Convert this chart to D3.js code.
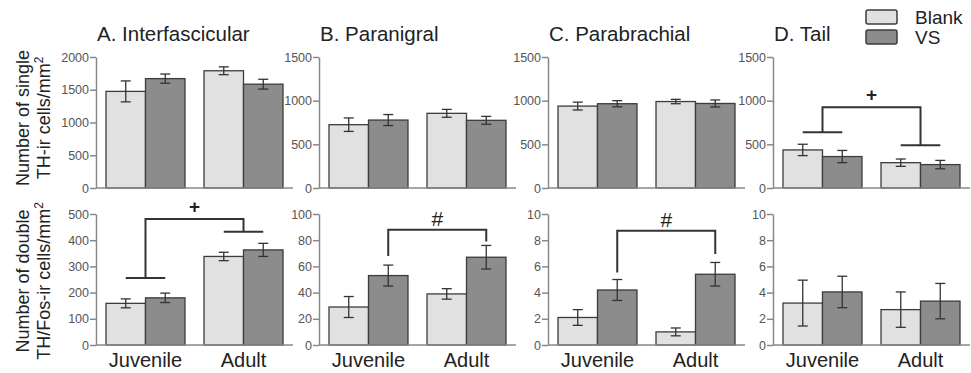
<!DOCTYPE html>
<html>
<head>
<meta charset="utf-8">
<script src="https://cdn.jsdelivr.net/npm/d3@7"></script>
<style>
body { margin: 0; background: #fff; }
svg { font-family: "Liberation Sans", Arial, sans-serif; }
</style>
</head>
<body>
<svg id="chart" width="971" height="373"></svg>
<script>
// data
const groups = ["Juvenile", "Adult"];
const series = ["Blank", "VS"];
const titles = ["A. Interfascicular", "B. Paranigral", "C. Parabrachial", "D. Tail"];

// order in each row: juvenile blank, juvenile VS, adult blank, adult VS
const singleMean = [[1475, 1670, 1790, 1585], [725, 778, 855, 775], [938, 965, 990, 968], [436, 360, 290, 268]];
const singleErr  = [[160, 70, 60, 75], [77, 63, 45, 45], [45, 35, 25, 40], [65, 70, 42, 48]];
const doubleMean = [[159, 180, 338, 363], [29, 53, 39, 67], [2.1, 4.2, 1.0, 5.4], [3.2, 4.05, 2.7, 3.35]];
const doubleErr  = [[17, 18, 16, 25], [8, 8, 4, 9], [0.6, 0.8, 0.3, 0.9], [1.75, 1.2, 1.35, 1.35]];

const singleTicks = [[0, 500, 1000, 1500, 2000], [0, 500, 1000, 1500], [0, 500, 1000, 1500], [0, 500, 1000, 1500]];
const doubleTicks = [[0, 100, 200, 300, 400, 500], [0, 20, 40, 60, 80, 100], [0, 2, 4, 6, 8, 10], [0, 2, 4, 6, 8, 10]];

// significance brackets: levels in data units (left end, top, right end)
const brackets = [
  { row: 1, panel: 0, kind: "group", sym: "+", left: 256, top: 481, right: 432 },
  { row: 1, panel: 1, kind: "bar", sym: "#", left: 68, top: 88, right: 79 },
  { row: 1, panel: 2, kind: "bar", sym: "#", left: 5.54, top: 8.73, right: 6.94 },
  { row: 0, panel: 3, kind: "group", sym: "+", left: 639, top: 926, right: 489 }
];

const colors = { Blank: "#e1e1e1", VS: "#8c8c8c" };
const ink = "#333";

let svg = d3.select("#chart");
let axisX = [96, 319, 548, 773]; // left edge of each panel
let axisLen = 197;
let rows = [
  { y0: 188, y1: 57, means: singleMean, errs: singleErr, ticks: singleTicks },
  { y0: 345, y1: 214, means: doubleMean, errs: doubleErr, ticks: doubleTicks }
];

let xScales = [];
let yScales = [[], []];

axisX.forEach(function(ax, p) {
  let x = d3.scaleBand().domain(groups).range([ax, ax + axisLen])
    .paddingInner(0.194).paddingOuter(0.102);
  xScales.push(x);
  let xs = d3.scaleBand().domain(series).range([0, x.bandwidth()]);

  rows.forEach(function(r, ri) {
    let ticks = r.ticks[p];
    let y = d3.scaleLinear().domain([0, ticks[ticks.length - 1]]).range([r.y0, r.y1]);
    yScales[ri].push(y);

    let vals = [];
    groups.forEach(function(g, gi) {
      series.forEach(function(s, si) {
        vals.push({ g: g, s: s, v: r.means[p][gi * 2 + si], e: r.errs[p][gi * 2 + si] });
      });
    });

    let g = svg.append("g");

    g.selectAll(".bar")
      .data(vals)
      .enter()
      .append("rect")
      .attr("class", "bar")
      .attr("x", d => x(d.g) + xs(d.s))
      .attr("y", d => y(d.v))
      .attr("width", xs.bandwidth())
      .attr("height", d => y(0) - y(d.v))
      .attr("fill", d => colors[d.s])
      .attr("stroke", "#3c3c3c")
      .attr("stroke-width", 1.3);

    // error bars
    let eb = g.selectAll(".err").data(vals).enter().append("g").attr("class", "err")
      .attr("stroke", ink).attr("stroke-width", 1.3);
    let cx = d => x(d.g) + xs(d.s) + xs.bandwidth() / 2;
    eb.append("line")
      .attr("x1", cx).attr("x2", cx)
      .attr("y1", d => y(d.v + d.e)).attr("y2", d => y(d.v - d.e));
    eb.append("line")
      .attr("x1", d => cx(d) - 5).attr("x2", d => cx(d) + 5)
      .attr("y1", d => y(d.v + d.e)).attr("y2", d => y(d.v + d.e));
    eb.append("line")
      .attr("x1", d => cx(d) - 5).attr("x2", d => cx(d) + 5)
      .attr("y1", d => y(d.v - d.e)).attr("y2", d => y(d.v - d.e));

    // axes
    let yAxis = d3.axisLeft(y).tickValues(ticks).tickFormat(d3.format("d"))
      .tickSize(6).tickSizeOuter(0).tickPadding(1);
    let ag = g.append("g").attr("transform", "translate(" + ax + ",0)").call(yAxis);
    ag.select(".domain").attr("stroke", "#888").attr("stroke-width", 1.5);
    ag.selectAll(".tick line").attr("stroke", "#888").attr("stroke-width", 1.5);
    ag.selectAll(".tick text").attr("fill", "#555").style("font-size", "12.5px")
      .style("font-family", "'Liberation Sans', Arial, sans-serif");

    g.append("line")
      .attr("x1", ax).attr("x2", ax + axisLen)
      .attr("y1", y(0)).attr("y2", y(0))
      .attr("stroke", "#888").attr("stroke-width", 1.5);
  });

  svg.append("text")
    .attr("x", ax + 1).attr("y", 41)
    .attr("fill", "#222").style("font-size", "20.5px")
    .text(titles[p]);

  groups.forEach(function(gname) {
    svg.append("text")
      .attr("x", x(gname) + x.bandwidth() / 2).attr("y", 367)
      .attr("text-anchor", "middle").attr("fill", "#222").style("font-size", "20px")
      .text(gname);
  });
});

// y axis titles
function yTitle(cy, line1, line2) {
  let t = svg.append("g").attr("transform", "translate(0," + cy + ") rotate(-90)")
    .attr("fill", "#222").style("font-size", "18px").attr("text-anchor", "middle");
  t.append("text").attr("x", 0).attr("y", 29).text(line1);
  let l2 = t.append("text").attr("x", 0).attr("y", 50).text(line2);
  l2.append("tspan").attr("dy", -7).style("font-size", "12px").text("2");
}
yTitle(118, "Number of single", "TH-ir cells/mm");
yTitle(281, "Number of double", "TH/Fos-ir cells/mm");

// significance brackets
brackets.forEach(function(b) {
  let x = xScales[b.panel];
  let y = yScales[b.row][b.panel];
  let xl, xr;
  let bg = svg.append("g").attr("stroke", ink).attr("stroke-width", 2).attr("fill", "none");
  if (b.kind === "group") {
    xl = x(groups[0]) + x.bandwidth() / 2;
    xr = x(groups[1]) + x.bandwidth() / 2;
    let hw = x.bandwidth() / 4;
    bg.append("line").attr("x1", xl - hw).attr("x2", xl + hw).attr("y1", y(b.left)).attr("y2", y(b.left));
    bg.append("line").attr("x1", xr - hw).attr("x2", xr + hw).attr("y1", y(b.right)).attr("y2", y(b.right));
  } else {
    xl = x(groups[0]) + x.bandwidth() * 0.75;
    xr = x(groups[1]) + x.bandwidth() * 0.75;
  }
  bg.append("path")
    .attr("d", "M" + xl + "," + y(b.left) + "V" + y(b.top) + "H" + xr + "V" + y(b.right));
  let plus = b.sym === "+";
  svg.append("text")
    .attr("x", (xl + xr) / 2)
    .attr("y", y(b.top) - (plus ? 6 : 3.5))
    .attr("text-anchor", "middle").attr("fill", "#222")
    .style("font-size", plus ? "19px" : "21px").style("font-weight", plus ? "bold" : "normal")
    .text(b.sym);
});

// legend
let leg = svg.append("g");
series.forEach(function(s, i) {
  leg.append("rect")
    .attr("x", 866).attr("y", 10 + i * 20).attr("width", 31).attr("height", 14).attr("rx", 2)
    .attr("fill", colors[s]).attr("stroke", "#3c3c3c").attr("stroke-width", 1.5);
  leg.append("text")
    .attr("x", 915).attr("y", 24 + i * 20)
    .attr("fill", "#222").style("font-size", "19px")
    .text(s);
});
</script>
</body>
</html>
